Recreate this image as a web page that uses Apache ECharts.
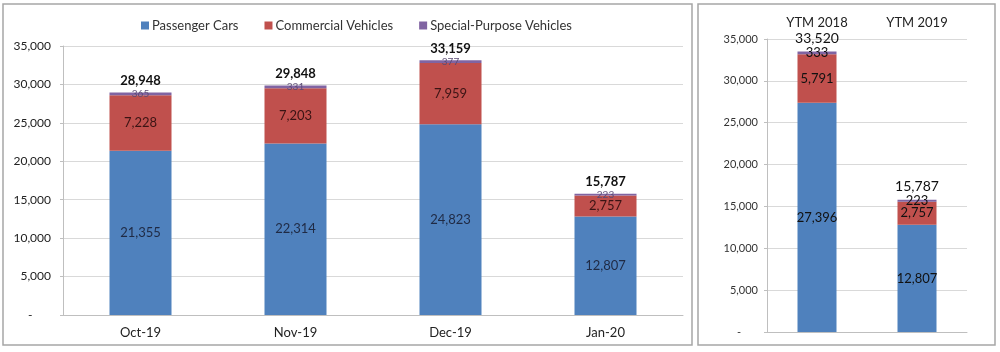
<!DOCTYPE html>
<html>
<head>
<meta charset="utf-8">
<script src="https://cdn.jsdelivr.net/npm/echarts@6/dist/echarts.min.js"></script>
<style>
  html, body { margin: 0; padding: 0; background: #fff; }
  #main { width: 1000px; height: 352px; }
</style>
</head>
<body>
<div id="main"></div>
<script>
// monthly figures
var months = ['Oct-19', 'Nov-19', 'Dec-19', 'Jan-20'];
var passenger = [21355, 22314, 24823, 12807];
var commercial = [7228, 7203, 7959, 2757];
var special = [365, 331, 377, 223];
var totals = [28948, 29848, 33159, 15787];

// year-to-month figures
var ytmCats = ['YTM 2018', 'YTM 2019'];
var ytmPassenger = [27396, 12807];
var ytmCommercial = [5791, 2757];
var ytmSpecial = [333, 223];
var ytmTotals = [33520, 15787];

var FONT = 'Lato';
var fmt = function (v) { return v === 0 ? '-      ' : v.toLocaleString('en-US'); };
var lbl = function (p) { return p.value.toLocaleString('en-US'); };

var myChart = echarts.init(document.getElementById('main'));

var option = {
  animation: false,
  textStyle: { fontFamily: FONT },
  color: ['#4F81BD', '#C0504D', '#8064A2'],
  graphic: [
    { type: 'rect', shape: { x: 3, y: 4, width: 689, height: 341 },
      style: { fill: 'none', stroke: '#a6a6a6', lineWidth: 1.5 } },
    { type: 'rect', shape: { x: 698, y: 4, width: 297, height: 341 },
      style: { fill: 'none', stroke: '#a6a6a6', lineWidth: 1.5 } }
  ],
  legend: {
    data: ['Passenger Cars', 'Commercial Vehicles', 'Special-Purpose Vehicles'],
    left: 136, top: 14,
    itemWidth: 8, itemHeight: 8, itemGap: 26,
    icon: 'rect',
    textStyle: { fontFamily: FONT, fontSize: 13, color: '#333', padding: [0, 0, 0, -2] }
  },
  grid: [
    { left: 63, top: 46, width: 620, height: 269 },
    { left: 767, top: 39, width: 200, height: 293 }
  ],
  xAxis: [
    { type: 'category', gridIndex: 0, data: months,
      axisLine: { lineStyle: { color: '#bfbfbf' } },
      axisTick: { length: 4, lineStyle: { color: '#bfbfbf' } },
      axisLabel: { fontFamily: FONT, fontSize: 13, color: '#222', margin: 11 } },
    { type: 'category', gridIndex: 1, data: ytmCats, position: 'top',
      axisLine: { lineStyle: { color: '#bfbfbf' } },
      axisTick: { length: 4, lineStyle: { color: '#bfbfbf' } },
      axisLabel: { fontFamily: FONT, fontSize: 13, color: '#222', margin: 10 } }
  ],
  yAxis: [
    { type: 'value', gridIndex: 0, min: 0, max: 35000, interval: 5000,
      axisLine: { show: true, lineStyle: { color: '#bfbfbf' } },
      axisTick: { show: true, length: 3, lineStyle: { color: '#bfbfbf' } },
      splitLine: { lineStyle: { color: '#d9d9d9' } },
      axisLabel: { fontFamily: FONT, fontSize: 12, color: '#222', margin: 12, formatter: fmt } },
    { type: 'value', gridIndex: 1, min: 0, max: 35000, interval: 5000,
      axisLine: { show: true, lineStyle: { color: '#bfbfbf' } },
      axisTick: { show: true, length: 3, lineStyle: { color: '#bfbfbf' } },
      splitLine: { lineStyle: { color: '#d9d9d9' } },
      axisLabel: { fontFamily: FONT, fontSize: 11, color: '#333', margin: 9, formatter: fmt } }
  ],
  series: [
    { name: 'Passenger Cars', type: 'bar', stack: 'a', xAxisIndex: 0, yAxisIndex: 0,
      data: passenger, barWidth: '40%', barGap: '-100%',
      label: { show: true, position: 'inside', fontSize: 13, color: '#1f2a44', formatter: lbl } },
    { name: 'Commercial Vehicles', type: 'bar', stack: 'a', xAxisIndex: 0, yAxisIndex: 0,
      data: commercial, barWidth: '40%', barGap: '-100%',
      label: { show: true, position: 'inside', fontSize: 13, color: '#3b1414', formatter: lbl } },
    { name: 'Special-Purpose Vehicles', type: 'bar', stack: 'a', xAxisIndex: 0, yAxisIndex: 0,
      data: special, barWidth: '40%', barGap: '-100%',
      label: { show: true, position: 'inside', fontSize: 10, color: '#5b4b74', formatter: lbl } },
    { name: 'Total', type: 'bar', xAxisIndex: 0, yAxisIndex: 0,
      data: totals, barWidth: '40%', barGap: '-100%', z: 1,
      itemStyle: { color: 'rgba(0,0,0,0)' }, silent: true,
      label: { show: true, position: 'top', distance: 5, fontSize: 13, fontWeight: 'bold', color: '#111', formatter: lbl } },

    { name: 'Passenger Cars', type: 'bar', stack: 'b', xAxisIndex: 1, yAxisIndex: 1,
      data: ytmPassenger, barWidth: '39%', barGap: '-100%',
      label: { show: true, position: 'inside', fontSize: 13, color: '#111', formatter: lbl } },
    { name: 'Commercial Vehicles', type: 'bar', stack: 'b', xAxisIndex: 1, yAxisIndex: 1,
      data: ytmCommercial, barWidth: '39%', barGap: '-100%',
      label: { show: true, position: 'inside', fontSize: 13, color: '#111', formatter: lbl } },
    { name: 'Special-Purpose Vehicles', type: 'bar', stack: 'b', xAxisIndex: 1, yAxisIndex: 1,
      data: ytmSpecial, barWidth: '39%', barGap: '-100%',
      label: { show: true, position: 'inside', fontSize: 13, color: '#111', formatter: lbl } },
    { name: 'Total', type: 'bar', xAxisIndex: 1, yAxisIndex: 1,
      data: ytmTotals, barWidth: '39%', barGap: '-100%', z: 1,
      itemStyle: { color: 'rgba(0,0,0,0)' }, silent: true,
      label: { show: true, position: 'top', distance: 6, fontSize: 14, color: '#111', formatter: lbl } }
  ]
};

myChart.setOption(option);
</script>
</body>
</html>
